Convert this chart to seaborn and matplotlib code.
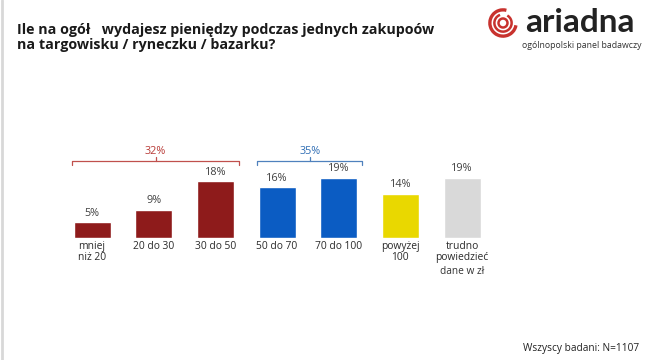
import matplotlib
matplotlib.use("Agg")
import matplotlib.pyplot as plt
from matplotlib.patches import Arc, Circle
import seaborn as sns
import pandas as pd

categories = ["mniej\nniż 20", "20 do 30", "30 do 50", "50 do 70", "70 do 100", "powyżej\n100", "trudno\npowiedzieć"]
values = [5, 9, 18, 16, 19, 14, 19]
bar_colors = ["#8E1B1B", "#8E1B1B", "#8E1B1B", "#0B5CC3", "#0B5CC3", "#E9D800", "#D9D9D9"]
group_labels = ["32%", "35%"]
group_spans = [(0, 2), (3, 4)]
group_colors = ["#C0504D", "#4F81BD"]
group_text_colors = ["#B83A36", "#2E6DB4"]

title = "Ile na ogół   wydajesz pieniędzy podczas jednych zakupoów\nna targowisku / ryneczku / bazarku?"
footer = "Wszyscy badani: N=1107"
unit_note = "dane w zł"

sns.set_theme(style="white")
plt.rcParams["font.family"] = ["Open Sans", "DejaVu Sans"]

df = pd.DataFrame({"cat": categories, "val": values})

fig = plt.figure(figsize=(6.48, 3.6), dpi=100)
W, H = 648, 360
ax = fig.add_axes([61.2 / W, 122 / H, 431.7 / W, 98 / H])
sns.barplot(data=df, x="cat", y="val", hue="cat", palette=bar_colors,
            width=0.6, legend=False, ax=ax, saturation=1)
ax.set_xlim(-0.5, len(categories) - 0.5)
ax.set_ylim(0, 31)
for s in ax.spines.values():
    s.set_visible(False)
ax.set_yticks([])
ax.set_xlabel("")
ax.set_ylabel("")
ax.tick_params(axis="x", length=0, pad=2.5, labelsize=7.4, labelcolor="#2a2a2a")
ax.set_xticks(range(len(categories)))
ax.set_xticklabels(categories, linespacing=1.0)
for lbl in ax.get_xticklabels():
    lbl.set_verticalalignment("top")

for i, v in enumerate(values):
    ax.annotate(f"{v}%", (i, v), xytext=(0, 2.5), textcoords="offset points",
                ha="center", va="bottom", fontsize=7.8, color="#404040")

# group brackets
y_line, y_end, y_mid, y_txt = 24.2, 23.2, 25.5, 25.7
for (a, b), lab, lc, tc in zip(group_spans, group_labels, group_colors, group_text_colors):
    x0, x1 = a - 0.33, b + 0.38
    xm = (a + b) / 2 + 0.03
    ax.plot([x0, x0, x1, x1], [y_end, y_line, y_line, y_end], color=lc, lw=0.9, clip_on=False)
    ax.plot([xm, xm], [y_line, y_mid], color=lc, lw=0.9, clip_on=False)
    ax.text(xm, y_txt, lab, ha="center", va="bottom", fontsize=7.8, color=tc, clip_on=False)

# title
fig.text(17 / W, 1 - 37.5 / H, title, ha="left", va="center", fontsize=10.3,
         fontweight="bold", color="#1a1a1a", linespacing=1.12)

# unit note and footer
fig.text(462 / W, 1 - 271 / H, unit_note, ha="center", va="center", fontsize=7.3, color="#333333")
fig.text(581 / W, 1 - 348 / H, footer, ha="center", va="center", fontsize=7.3, color="#222222")

# logo
lax = fig.add_axes([488 / W, 1 - 38 / H, 30 / W, 30 / H])
lax.set_xlim(-1, 1); lax.set_ylim(-1, 1); lax.set_aspect("equal"); lax.axis("off")
red = "#C8322E"
lax.add_patch(Arc((0, 0), 1.75, 1.75, theta1=75, theta2=350, lw=2.4, color=red))
lax.add_patch(Arc((0, 0), 1.15, 1.15, theta1=110, theta2=420, lw=1.8, color=red))
lax.add_patch(Circle((0, 0), 0.3, fill=False, lw=1.8, color=red))
fig.text(580 / W, 1 - 22 / H, "ariadna", ha="center", va="center", fontsize=24,
         fontweight="bold", color="#222222", family=["Lato", "DejaVu Sans"])
fig.text(582 / W, 1 - 45 / H, "ogólnopolski panel badawczy", ha="center", va="center",
         fontsize=6.3, color="#333333")

# faint left border
fig.add_artist(plt.Line2D([1.5 / W, 1.5 / W], [0, 1], color="#d8d8d8", lw=2))

fig.savefig("out.png", dpi=100, facecolor="white")
